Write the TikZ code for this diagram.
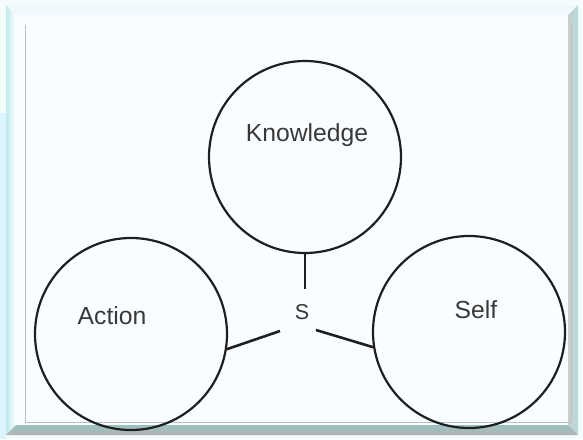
\documentclass[tikz,border=0pt]{standalone}
\usepackage{fontspec}
\setmainfont{Liberation Sans}
\begin{document}
\begin{tikzpicture}[x=1pt,y=-1pt,
  ring/.style={circle,draw=black!88,line width=2.2pt,minimum size=192pt,inner sep=0pt},
  word/.style={text=black!78,font=\fontsize{24.7}{28}\selectfont,inner sep=0pt},
  link/.style={draw=black!88,line width=2.6pt}]
\useasboundingbox (0,0) rectangle (583,439);
% background
\fill[cyan!4!white] (0,0) rectangle (583,439);
\fill[cyan!14!white] (0,113) rectangle (6,439);
% bevelled frame
\shade[left color=black!35!cyan!25!white,right color=white] (6,5) -- (16,15) -- (16,425) -- (6,435) -- cycle;
\fill[cyan!6!white] (6,5) -- (578,5) -- (568,15) -- (16,15) -- cycle;
\shade[left color=black!20!white,right color=black!45!cyan!30!white] (578,5) -- (578,435) -- (568,425) -- (568,15) -- cycle;
\shade[top color=black!60!cyan!40!white,bottom color=black!30!white] (6,435) -- (578,435) -- (568,425) -- (16,425) -- cycle;
\fill[cyan!2!white] (16,15) rectangle (568,425);
\draw[black!25,line width=1pt] (25,25) -- (25,422) -- (571,422) -- (571,25);
% circles
\node[ring] (K) at (305,157) {};
\node[ring] (A) at (131,334) {};
\node[ring] (Sf) at (469,332) {};
% texts
\node[word] (kt) at (307,135) {Knowledge};
\node[word] (at) at (112,316) {Action};
\node[word] (st) at (476,310) {Self};
\node[word,font=\fontsize{21.5}{24}\selectfont] (S) at (302,312) {S};
% free ends
\coordinate (e1) at (305,289);
\coordinate (e2) at (280,331);
\coordinate (e3) at (316,330);
\draw[link] (K.south) -- (e1);
\draw[link] (A.-9) -- (e2);
\draw[link] (Sf.189) -- (e3);
\end{tikzpicture}
\end{document}
